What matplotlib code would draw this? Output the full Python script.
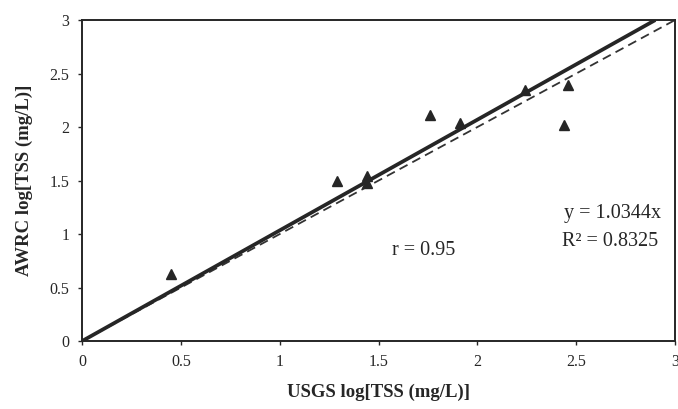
import matplotlib
matplotlib.use("Agg")
import matplotlib.pyplot as plt
import numpy as np

usgs = [0.45, 1.29, 1.44, 1.44, 1.76, 1.91, 2.24, 2.44, 2.46]
awrc = [0.63, 1.50, 1.54, 1.48, 2.11, 2.04, 2.35, 2.02, 2.39]
slope = 1.0344
ticks = [0, 0.5, 1, 1.5, 2, 2.5, 3]
tick_labels = ["0", "0.5", "1", "1.5", "2", "2.5", "3"]

plt.rcParams['font.family'] = ['Liberation Serif', 'DejaVu Serif']
ink = '#262626'

fig = plt.figure(figsize=(6.78, 4.09), dpi=100)
ax = fig.add_axes([0.121, 0.166, 0.8746, 0.785])

xfit = np.array([0, 3 / slope])
ax.plot(xfit, slope * xfit, color=ink, lw=2.7, solid_capstyle='butt', zorder=3)
ax.plot([0, 3], [0, 3], color='#333333', lw=1.3, ls=(0, (5, 3)), zorder=2)
ax.plot(usgs, awrc, ls='none', marker='^', ms=7.5, color=ink, zorder=4)

ax.set_xlim(0, 3)
ax.set_ylim(0, 3)
ax.set_xticks(ticks)
ax.set_xticklabels(tick_labels)
ax.set_yticks(ticks)
ax.set_yticklabels(tick_labels)
ax.tick_params(direction='out', length=3, width=1, colors=ink, labelsize=11.5, pad=6)
for s in ax.spines.values():
    s.set_linewidth(1.4)
    s.set_color(ink)

ax.set_xlabel("USGS log[TSS (mg/L)]", fontsize=13.5, fontweight='bold', color=ink, labelpad=10)
ax.set_ylabel("AWRC log[TSS (mg/L)]", fontsize=13.5, fontweight='bold', color=ink, labelpad=12)

ax.text(2.44, 1.19, "y = 1.0344x", fontsize=14.5, color=ink, va='center', ha='left')
ax.text(2.43, 0.93, "R² = 0.8325", fontsize=14.5, color=ink, va='center', ha='left')
ax.text(1.57, 0.845, "r = 0.95", fontsize=14.5, color=ink, va='center', ha='left')

fig.savefig("out.png", dpi=100)
